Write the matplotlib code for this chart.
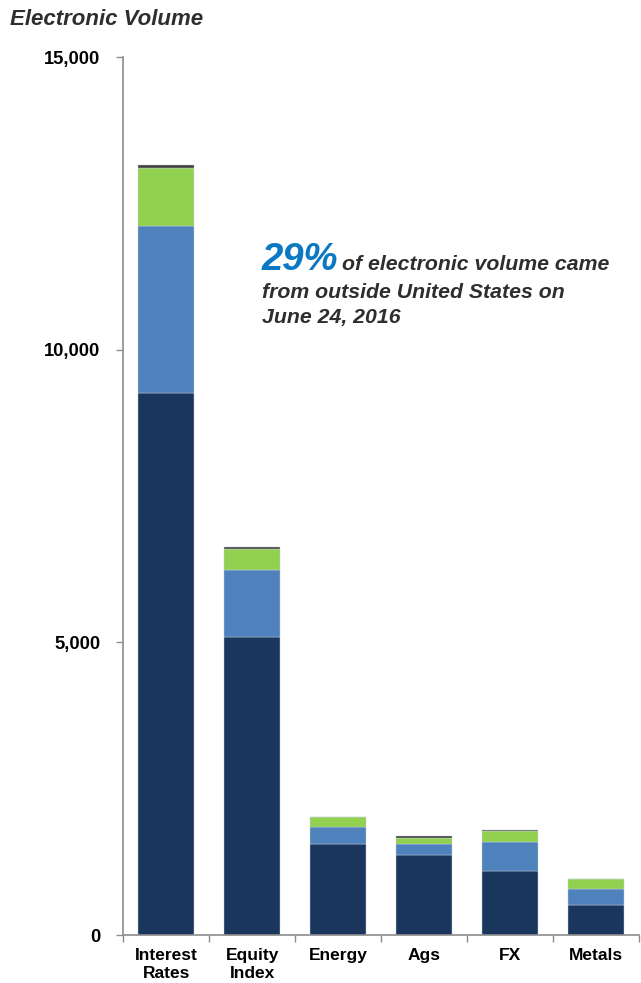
import numpy as np
import matplotlib.pyplot as plt
from matplotlib.ticker import FuncFormatter, FixedLocator


CATEGORIES = ['Interest\nRates', 'Equity\nIndex', 'Energy', 'Ags', 'FX', 'Metals']

# stacked segments, bottom to top
US_VOLUME = [9260, 5090, 1555, 1365, 1095, 512]
SECOND_VOLUME = [2850, 1145, 290, 190, 495, 275]
THIRD_VOLUME = [990, 360, 170, 105, 185, 170]
OTHER_VOLUME = [55, 35, 5, 30, 15, 5]

Y_TICKS = [0, 5000, 10000, 15000]

COLORS = ['#1a365d', '#4f81bd', '#92d050', '#3f3f3f']
AXIS_GRAY = '#8c8c8c'
TEXT_GRAY = '#2e2e2e'


def plot_volume():
    plt.rcParams['font.family'] = ['Liberation Sans', 'DejaVu Sans']

    fig = plt.figure(figsize=(6.41, 9.83), dpi=100)
    ax = fig.add_axes([0.192, 0.0488, 0.805, 0.8932])

    x = np.arange(len(CATEGORIES))
    bottom = np.zeros(len(CATEGORIES))
    for values, color in zip([US_VOLUME, SECOND_VOLUME, THIRD_VOLUME, OTHER_VOLUME], COLORS):
        ax.bar(x, values, bottom=bottom, width=0.65, color=color,
               edgecolor='#c9d3df', linewidth=0.3, zorder=2)
        bottom += np.array(values)

    ax.set_xlim(-0.5, len(CATEGORIES) - 0.5)
    ax.set_ylim(0, 15000)

    ax.yaxis.set_major_locator(FixedLocator(Y_TICKS))
    ax.yaxis.set_major_formatter(FuncFormatter(lambda v, p: f'{int(v):,}'))
    ax.tick_params(axis='y', direction='out', length=5, width=1, color=AXIS_GRAY,
                   labelsize=13.2, pad=11.5, labelcolor='black')
    for label in ax.get_yticklabels():
        label.set_fontweight('bold')

    ax.set_xticks(x)
    ax.set_xticklabels(CATEGORIES, fontsize=12.5, fontweight='bold', linespacing=1.2)
    ax.tick_params(axis='x', which='major', length=0, pad=9.5)
    ax.set_xticks(np.arange(-0.5, len(CATEGORIES)), minor=True)
    ax.tick_params(axis='x', which='minor', direction='out', length=5, width=1, color=AXIS_GRAY)

    for side in ['top', 'right']:
        ax.spines[side].set_visible(False)
    for side in ['left', 'bottom']:
        ax.spines[side].set_color(AXIS_GRAY)
        ax.spines[side].set_linewidth(1.2)

    fig.text(0.016, 0.9746, 'Electronic Volume', fontsize=16, fontweight='bold',
             fontstyle='italic', color=TEXT_GRAY, va='baseline', ha='left')

    fig.text(0.408, 0.7253, '29%', fontsize=27.5, fontweight='bold', fontstyle='italic',
             color='#0a78c2', va='baseline', ha='left')
    fig.text(0.534, 0.7253, 'of electronic volume came', fontsize=15.3, fontweight='bold',
             fontstyle='italic', color=TEXT_GRAY, va='baseline', ha='left')
    fig.text(0.408, 0.6968, 'from outside United States on', fontsize=15.3, fontweight='bold',
             fontstyle='italic', color=TEXT_GRAY, va='baseline', ha='left')
    fig.text(0.408, 0.6714, 'June 24, 2016', fontsize=15.3, fontweight='bold',
             fontstyle='italic', color=TEXT_GRAY, va='baseline', ha='left')

    plt.savefig('out.png', dpi=100)
    plt.close()


def main():
    plot_volume()


if __name__ == '__main__':
    main()
